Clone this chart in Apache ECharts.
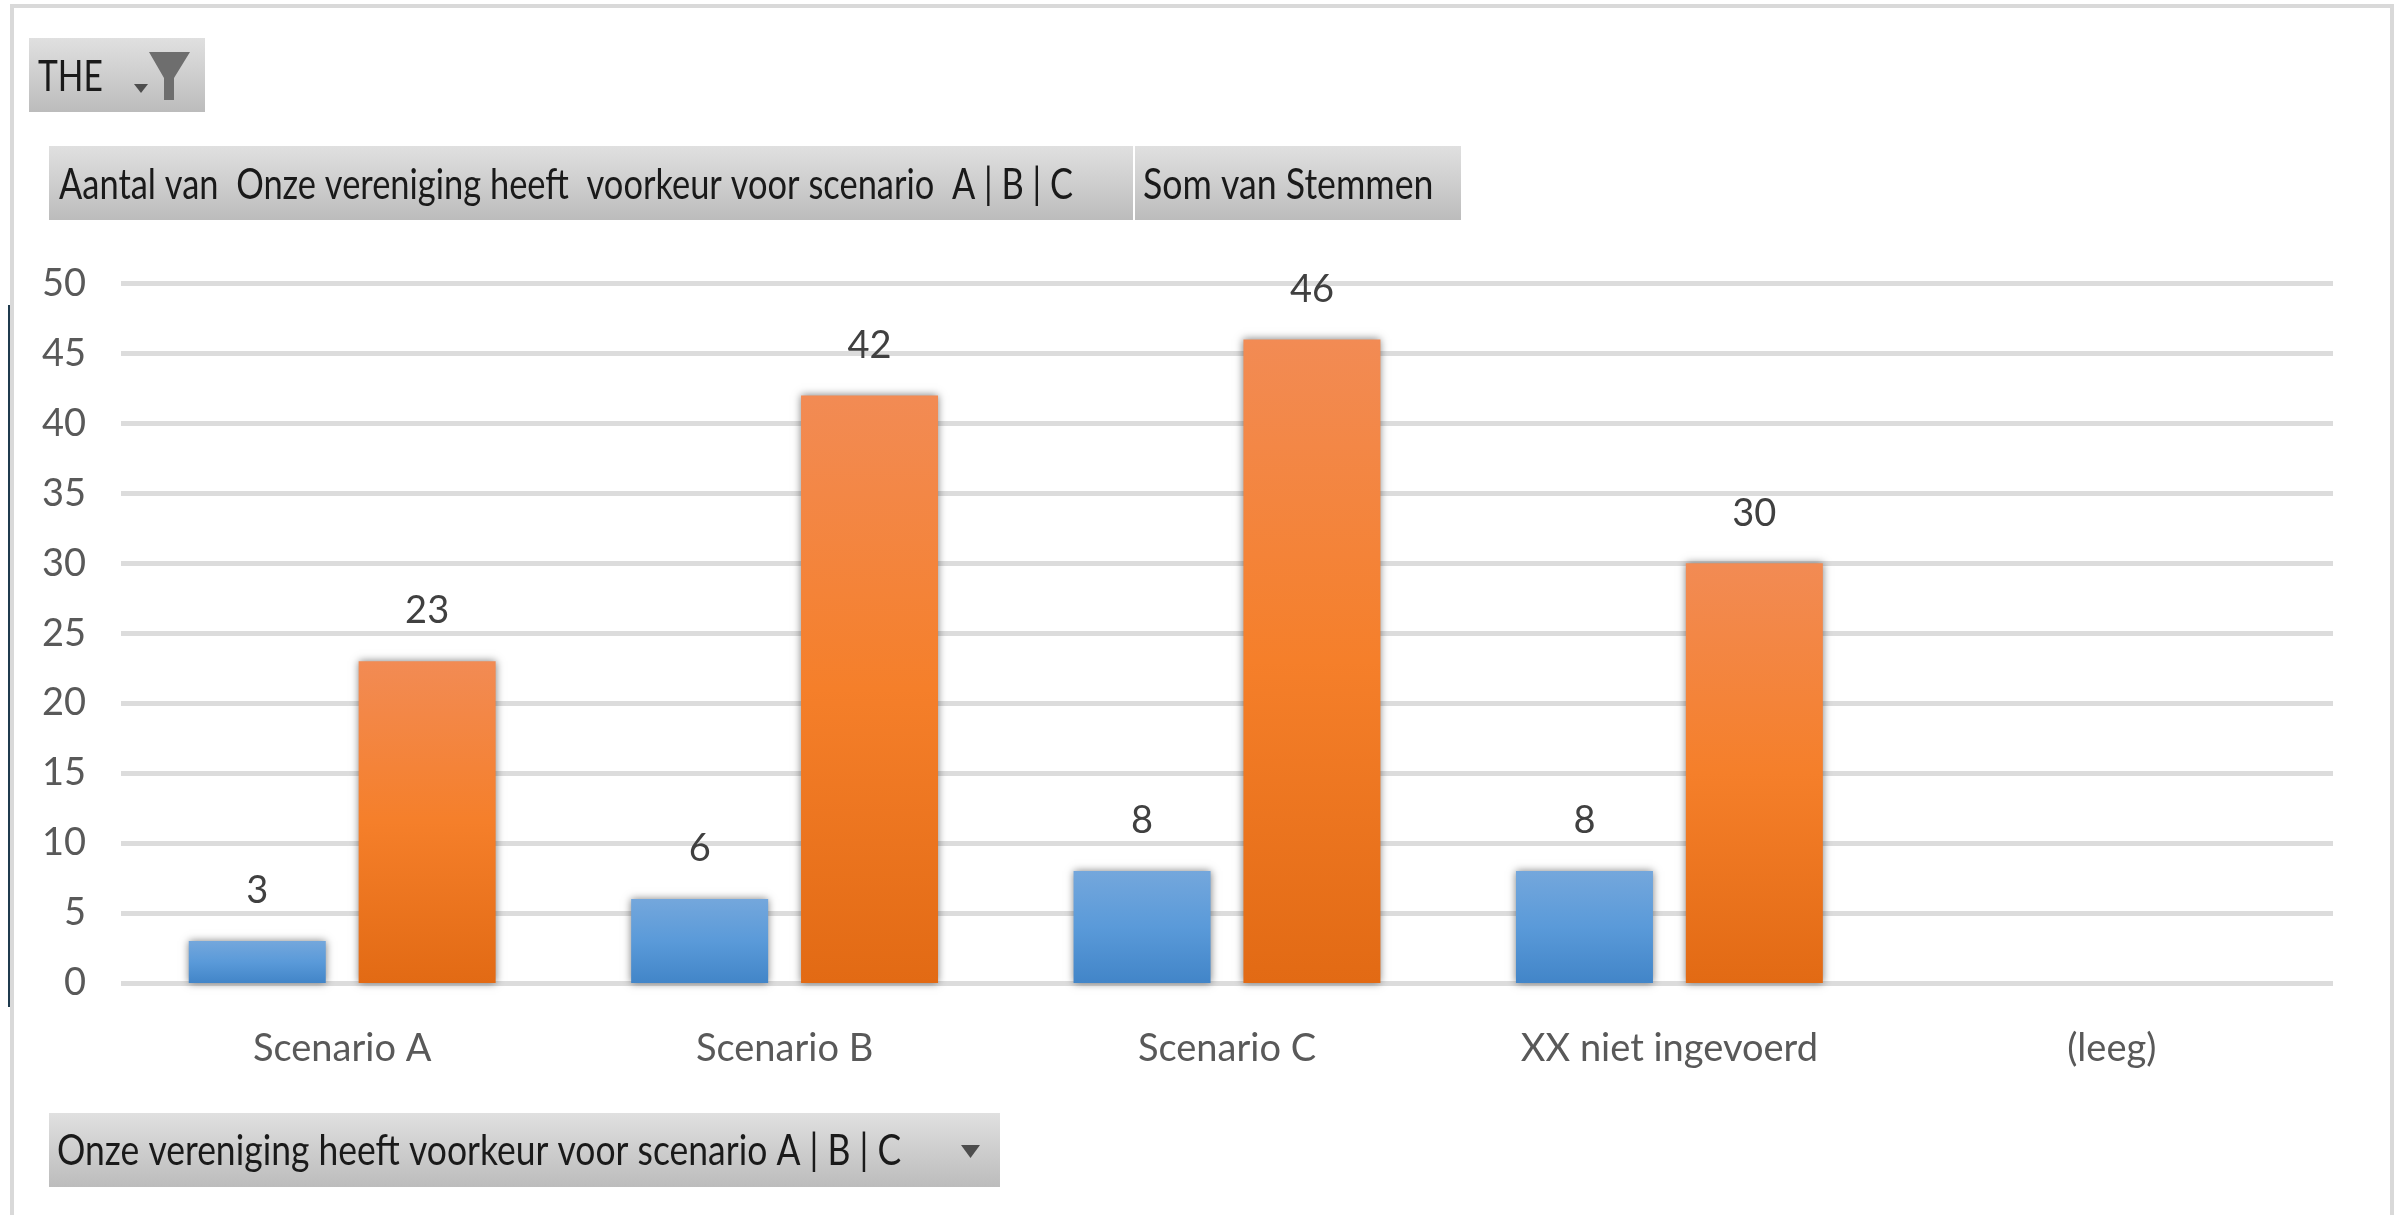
<!DOCTYPE html>
<html>
  <head>
    <meta charset="utf-8" />
    <title>Scenario voorkeur</title>
    <style>
      html, body { margin: 0; padding: 0; background: #fff; }
      #main { width: 2394px; height: 1215px; filter: blur(0.6px); }
    </style>
  </head>
  <body>
    <div id="main"></div>
    <script src="https://cdn.jsdelivr.net/npm/echarts@6/dist/echarts.min.js"></script>
    <script>
      var categories = ["Scenario A", "Scenario B", "Scenario C", "XX niet ingevoerd", "(leeg)"];
      var aantalValues = [3, 6, 8, 8, null];
      var stemmenValues = [23, 42, 46, 30, null];
      var filterLabel = "THE";
      var aantalLabel = "Aantal van  Onze vereniging heeft  voorkeur voor scenario  A | B | C";
      var stemmenLabel = "Som van Stemmen";
      var axisFieldLabel = "Onze vereniging heeft voorkeur voor scenario A | B | C";

      var font = "Lato, sans-serif";

      function barFill(top, mid, bottom) {
        return new echarts.graphic.LinearGradient(0, 0, 0, 1, [
          { offset: 0, color: top },
          { offset: 0.5, color: mid },
          { offset: 1, color: bottom },
        ]);
      }

      // grey pivot field button
      function fieldButton(x, y, w, h) {
        return {
          type: "rect",
          shape: { x: x, y: y, width: w, height: h },
          style: {
            fill: new echarts.graphic.LinearGradient(0, 0, 0, 1, [
              { offset: 0, color: "#e0e0e0" },
              { offset: 1, color: "#bcbcbc" },
            ]),
          },
          z: 1,
        };
      }

      // button captions are squeezed a bit, the original is a stretched screenshot
      function fieldText(x, y, text, squeeze) {
        return {
          type: "text",
          x: x,
          y: y,
          scaleX: squeeze,
          style: {
            text: text,
            font: "42px " + font,
            fill: "#1a1a1a",
            verticalAlign: "middle",
          },
          z: 2,
        };
      }

      function triangle(pts) {
        return {
          type: "polygon",
          shape: { points: pts },
          style: { fill: "#4d4d4d" },
          z: 2,
        };
      }

      var chart = echarts.init(document.getElementById("main"));

      chart.setOption({
        animation: false,
        backgroundColor: "#ffffff",
        grid: { left: 121, right: 61, top: 283.5, height: 699.5 },
        xAxis: {
          type: "category",
          data: categories,
          axisLine: { show: false },
          axisTick: { show: false },
          axisLabel: { color: "#595959", fontSize: 38, fontFamily: font, margin: 47 },
        },
        yAxis: {
          type: "value",
          min: 0,
          max: 50,
          interval: 5,
          axisLine: { show: false },
          axisTick: { show: false },
          axisLabel: { color: "#595959", fontSize: 38, fontFamily: font, margin: 35 },
          splitLine: { lineStyle: { color: "#dcdcdc", width: 5 } },
        },
        series: [
          {
            name: "Aantal van Onze vereniging heeft voorkeur voor scenario A | B | C",
            type: "bar",
            data: aantalValues,
            barWidth: 137,
            barGap: "24%",
            itemStyle: {
              color: barFill("#74a7dc", "#5a9ad9", "#4285c8"),
              shadowColor: "rgba(0,0,0,0.5)",
              shadowBlur: 8,
            },
            label: {
              show: true,
              position: "top",
              distance: 31,
              color: "#404040",
              fontSize: 38,
              fontFamily: font,
            },
          },
          {
            name: "Som van Stemmen",
            type: "bar",
            data: stemmenValues,
            barWidth: 137,
            itemStyle: {
              color: barFill("#f28b54", "#f57f2a", "#e26a14"),
              shadowColor: "rgba(0,0,0,0.5)",
              shadowBlur: 8,
            },
            label: {
              show: true,
              position: "top",
              distance: 31,
              color: "#404040",
              fontSize: 38,
              fontFamily: font,
            },
          },
        ],
        graphic: [
          // outer frame
          { type: "rect", shape: { x: 10, y: 4, width: 2380, height: 4 }, style: { fill: "#d9d9d9" } },
          { type: "rect", shape: { x: 10, y: 4, width: 4, height: 1211 }, style: { fill: "#d9d9d9" } },
          { type: "rect", shape: { x: 2390, y: 4, width: 4, height: 1211 }, style: { fill: "#d9d9d9" } },
          { type: "rect", shape: { x: 8, y: 305, width: 2, height: 702 }, style: { fill: "#1f3a4d" } },

          fieldButton(29, 38, 176, 74),
          fieldText(38, 77, filterLabel, 0.8),
          triangle([[134, 84], [148, 84], [141, 93]]),
          {
            type: "polygon",
            shape: { points: [[149, 52], [190, 52], [174, 78], [174, 100], [164, 100], [164, 78]] },
            style: { fill: "#6e6e6e" },
            z: 2,
          },

          fieldButton(49, 146, 1084, 74),
          fieldText(59, 185, aantalLabel, 0.82),
          fieldButton(1135, 146, 326, 74),
          fieldText(1143, 185, stemmenLabel, 0.85),

          fieldButton(49, 1113, 951, 74),
          fieldText(57, 1151, axisFieldLabel, 0.845),
          triangle([[961, 1145], [980, 1145], [970.5, 1158]]),
        ],
      });
    </script>
  </body>
</html>
